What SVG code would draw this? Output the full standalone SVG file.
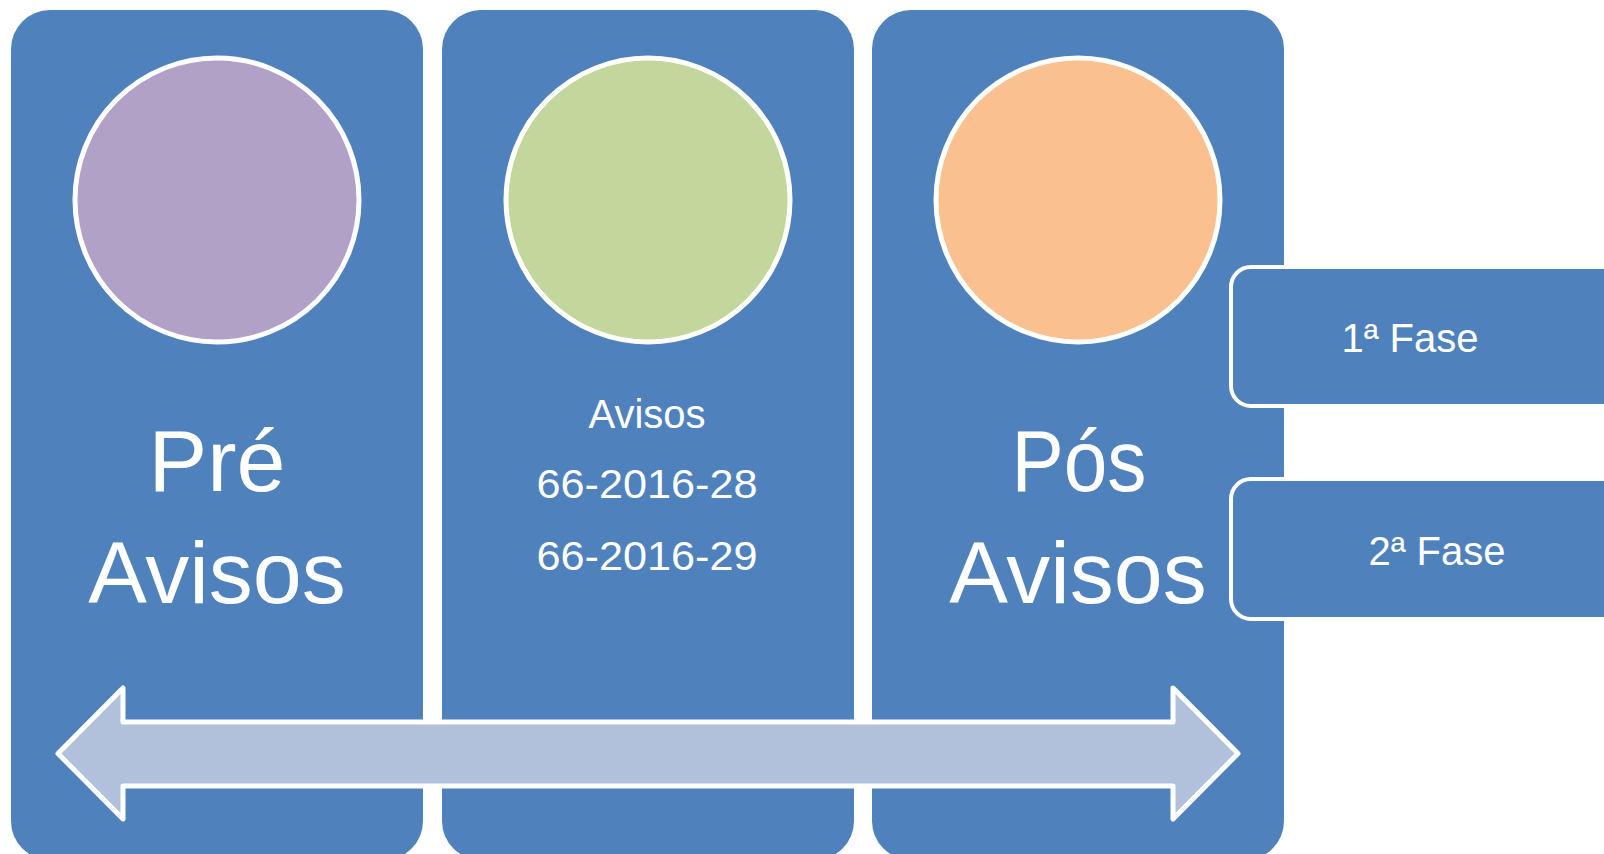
<svg xmlns="http://www.w3.org/2000/svg" width="1604" height="854" viewBox="0 0 1604 854">
<style>
.panel{fill:#4F81BD}
.circ{stroke:#FFFFFF;stroke-width:5}
.sub{fill:#4F81BD;stroke:#FFFFFF;stroke-width:4}
.t{font-family:"Liberation Sans",Arial,sans-serif;fill:#FFFFFF;text-anchor:middle}
.big{font-size:88px}
.mid{font-size:40px}
.sm{font-size:40px}
</style>
<rect width="1604" height="854" fill="#FFFFFF"/>
<g id="node-pre">
<rect class="panel" x="11" y="10" width="412" height="850" rx="39"/>
<circle class="circ" cx="217" cy="200" r="142" fill="#B2A1C7"/>
<text class="t big" x="217" y="491">Pré</text>
<text class="t big" x="217" y="603">Avisos</text>
</g>
<g id="node-avisos">
<rect class="panel" x="442" y="10" width="412" height="850" rx="39"/>
<circle class="circ" cx="648" cy="200" r="142" fill="#C3D69B"/>
<text class="t mid" x="647" y="428">Avisos</text>
<text class="t mid" x="647" y="498" textLength="221" lengthAdjust="spacingAndGlyphs">66-2016-28</text>
<text class="t mid" x="647" y="570" textLength="221" lengthAdjust="spacingAndGlyphs">66-2016-29</text>
</g>
<g id="node-pos">
<rect class="panel" x="872" y="10" width="412" height="850" rx="39"/>
<circle class="circ" cx="1078" cy="200" r="142" fill="#FAC090"/>
<text class="t big" x="1079" y="491" textLength="135" lengthAdjust="spacingAndGlyphs">Pós</text>
<text class="t big" x="1078" y="603">Avisos</text>
</g>
<g id="node-fase1">
<rect class="sub" x="1231" y="267" width="400" height="139" rx="20"/>
<text class="t sm" x="1410" y="352">1ª Fase</text>
</g>
<g id="node-fase2">
<rect class="sub" x="1231" y="479" width="400" height="140" rx="20"/>
<text class="t sm" x="1437" y="565">2ª Fase</text>
</g>
<g id="connectors">
<path d="M58,753.5 L123,688 L123,722 L1173,722 L1173,688 L1238,753.5 L1173,819 L1173,786 L123,786 L123,819 Z" fill="#B1C1DB" stroke="#FFFFFF" stroke-width="5" stroke-linejoin="round"/>
</g>
</svg>
